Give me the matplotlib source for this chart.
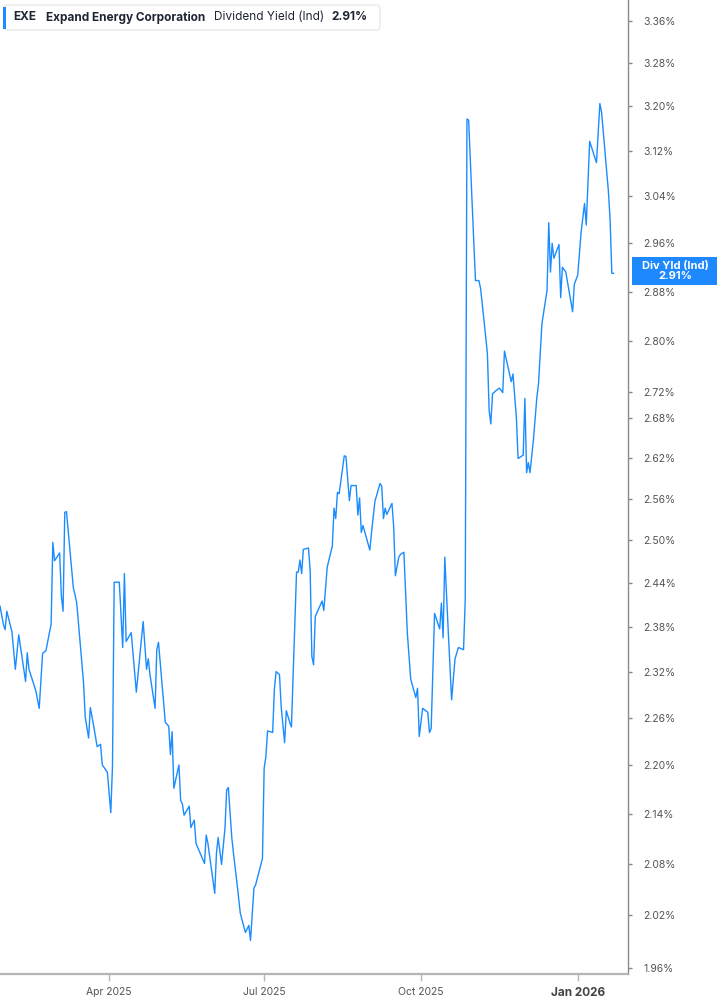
import matplotlib
matplotlib.use("Agg")
import matplotlib.pyplot as plt
import matplotlib.ticker as mticker
from matplotlib.patches import FancyBboxPatch, Rectangle
import pandas as pd

plt.rcParams['font.family'] = ['Inter', 'DejaVu Sans']

# EXE dividend yield (indicated), %
dates = [
    '2025-01-27', '2025-01-29', '2025-01-30', '2025-01-31', '2025-02-03', '2025-02-05',
    '2025-02-07', '2025-02-11', '2025-02-12', '2025-02-13', '2025-02-17', '2025-02-19',
    '2025-02-21', '2025-02-23', '2025-02-25', '2025-02-26', '2025-02-27', '2025-02-28',
    '2025-03-03', '2025-03-04', '2025-03-05', '2025-03-06', '2025-03-07', '2025-03-09',
    '2025-03-11', '2025-03-13', '2025-03-15', '2025-03-17', '2025-03-18', '2025-03-20',
    '2025-03-21', '2025-03-23', '2025-03-25', '2025-03-27', '2025-03-28', '2025-03-31',
    '2025-04-02', '2025-04-03', '2025-04-04', '2025-04-07', '2025-04-09', '2025-04-10',
    '2025-04-11', '2025-04-14', '2025-04-15', '2025-04-17', '2025-04-21', '2025-04-23',
    '2025-04-24', '2025-04-25', '2025-04-28', '2025-04-29', '2025-04-30', '2025-05-02',
    '2025-05-04', '2025-05-06', '2025-05-07', '2025-05-08', '2025-05-09', '2025-05-12',
    '2025-05-13', '2025-05-14', '2025-05-15', '2025-05-18', '2025-05-19', '2025-05-21',
    '2025-05-22', '2025-05-27', '2025-05-28', '2025-05-29', '2025-06-02', '2025-06-03',
    '2025-06-04', '2025-06-06', '2025-06-08', '2025-06-09', '2025-06-10', '2025-06-12',
    '2025-06-13', '2025-06-15', '2025-06-17', '2025-06-20', '2025-06-22', '2025-06-23',
    '2025-06-25', '2025-06-26', '2025-06-30', '2025-07-01', '2025-07-02', '2025-07-03',
    '2025-07-06', '2025-07-07', '2025-07-08', '2025-07-10', '2025-07-11', '2025-07-13',
    '2025-07-14', '2025-07-16', '2025-07-17', '2025-07-20', '2025-07-21', '2025-07-22',
    '2025-07-23', '2025-07-24', '2025-07-27', '2025-07-28', '2025-07-29', '2025-07-30',
    '2025-07-31', '2025-08-04', '2025-08-05', '2025-08-07', '2025-08-10', '2025-08-11',
    '2025-08-12', '2025-08-13', '2025-08-14', '2025-08-17', '2025-08-18', '2025-08-20',
    '2025-08-21', '2025-08-24', '2025-08-25', '2025-08-26', '2025-08-27', '2025-08-28',
    '2025-09-01', '2025-09-02', '2025-09-04', '2025-09-07', '2025-09-08', '2025-09-09',
    '2025-09-10', '2025-09-11', '2025-09-14', '2025-09-15', '2025-09-16', '2025-09-18',
    '2025-09-19', '2025-09-21', '2025-09-23', '2025-09-25', '2025-09-28', '2025-09-29',
    '2025-09-30', '2025-10-02', '2025-10-05', '2025-10-06', '2025-10-07', '2025-10-09',
    '2025-10-12', '2025-10-13', '2025-10-14', '2025-10-15', '2025-10-17', '2025-10-19',
    '2025-10-21', '2025-10-23', '2025-10-26', '2025-10-27', '2025-10-28', '2025-10-29',
    '2025-10-31', '2025-11-02', '2025-11-04', '2025-11-05', '2025-11-07', '2025-11-09',
    '2025-11-10', '2025-11-11', '2025-11-12', '2025-11-14', '2025-11-16', '2025-11-18',
    '2025-11-19', '2025-11-22', '2025-11-23', '2025-11-24', '2025-11-26', '2025-11-27',
    '2025-11-30', '2025-12-01', '2025-12-02', '2025-12-03', '2025-12-04', '2025-12-06',
    '2025-12-08', '2025-12-09', '2025-12-11', '2025-12-14', '2025-12-15', '2025-12-16',
    '2025-12-17', '2025-12-18', '2025-12-21', '2025-12-22', '2025-12-23', '2025-12-25',
    '2025-12-29', '2025-12-30', '2026-01-01', '2026-01-03', '2026-01-05', '2026-01-06',
    '2026-01-08', '2026-01-12', '2026-01-14', '2026-01-15', '2026-01-19', '2026-01-20',
    '2026-01-21', '2026-01-22',
]
yield_pct = [
    2.408, 2.383, 2.376, 2.401, 2.373, 2.323, 2.369, 2.307, 2.345, 2.323, 2.295, 2.272,
    2.344, 2.348, 2.372, 2.383, 2.497, 2.471, 2.482, 2.422, 2.401, 2.540, 2.541, 2.487,
    2.434, 2.413, 2.359, 2.306, 2.261, 2.234, 2.273, 2.249, 2.223, 2.226, 2.200, 2.191,
    2.141, 2.198, 2.441, 2.441, 2.352, 2.453, 2.360, 2.372, 2.345, 2.293, 2.387, 2.323,
    2.337, 2.316, 2.272, 2.349, 2.359, 2.306, 2.254, 2.249, 2.213, 2.242, 2.171, 2.200,
    2.156, 2.152, 2.138, 2.149, 2.123, 2.132, 2.104, 2.080, 2.114, 2.104, 2.045, 2.092,
    2.111, 2.079, 2.122, 2.169, 2.172, 2.111, 2.092, 2.058, 2.022, 2.000, 2.008, 1.991,
    2.051, 2.055, 2.086, 2.196, 2.210, 2.243, 2.241, 2.297, 2.320, 2.316, 2.274, 2.228,
    2.269, 2.254, 2.248, 2.455, 2.455, 2.472, 2.453, 2.487, 2.489, 2.457, 2.340, 2.329,
    2.394, 2.415, 2.402, 2.462, 2.492, 2.546, 2.531, 2.569, 2.567, 2.623, 2.622, 2.557,
    2.579, 2.579, 2.536, 2.561, 2.511, 2.521, 2.486, 2.511, 2.556, 2.582, 2.578, 2.531,
    2.546, 2.537, 2.553, 2.520, 2.450, 2.476, 2.480, 2.483, 2.372, 2.310, 2.286, 2.298,
    2.236, 2.272, 2.267, 2.241, 2.246, 2.398, 2.377, 2.412, 2.365, 2.476, 2.375, 2.283,
    2.337, 2.352, 2.349, 2.418, 3.177, 3.175, 3.031, 2.898, 2.898, 2.885, 2.833, 2.780,
    2.692, 2.671, 2.717, 2.722, 2.726, 2.719, 2.784, 2.748, 2.736, 2.748, 2.681, 2.619,
    2.624, 2.710, 2.598, 2.613, 2.598, 2.647, 2.711, 2.733, 2.828, 2.882, 2.995, 2.912,
    2.960, 2.935, 2.958, 2.870, 2.920, 2.912, 2.847, 2.892, 2.907, 2.979, 3.028, 2.991,
    3.137, 3.099, 3.205, 3.189, 3.049, 3.000, 2.910, 2.910,
]

ytick_vals = [1.96, 2.02, 2.08, 2.14, 2.20, 2.26, 2.32, 2.38, 2.44, 2.50, 2.56,
              2.62, 2.68, 2.72, 2.80, 2.88, 2.96, 3.04, 3.12, 3.20, 3.28, 3.36]
xtick_dates = ['2025-04-01', '2025-07-01', '2025-10-01', '2026-01-01']
xtick_labels = ['Apr 2025', 'Jul 2025', 'Oct 2025', 'Jan 2026']

ticker_sym = 'EXE'
company = 'Expand Energy Corporation'
metric = 'Dividend Yield (Ind)'
last_val = yield_pct[-1]

LINE = '#1a8cff'
TEXT = '#1f2533'
W, H = 717, 1005

fig = plt.figure(figsize=(W / 100, H / 100), dpi=100)
ax = fig.add_axes([0, 31 / H, 628 / W, 974 / H])

ax.plot(pd.to_datetime(dates), yield_pct, color=LINE, lw=1.0)

ax.set_yscale('log')
ax.set_ylim(1.9533, 3.3995)
ax.set_xlim(pd.Timestamp('2025-01-27'), pd.Timestamp('2026-01-30 12:00'))

ax.yaxis.set_major_locator(mticker.FixedLocator(ytick_vals))
ax.yaxis.set_minor_locator(mticker.NullLocator())
ax.yaxis.set_major_formatter(mticker.FuncFormatter(lambda v, p: f'{v:.2f}%'))
ax.yaxis.set_minor_formatter(mticker.NullFormatter())
ax.yaxis.tick_right()
ax.tick_params(axis='y', length=3, width=1, color='#888888', pad=8,
               labelsize=7.5, labelcolor='#555555')

ax.set_xticks(pd.to_datetime(xtick_dates))
ax.set_xticklabels(xtick_labels)
ax.tick_params(axis='x', length=5, width=1, color='#b5b5b5', pad=4,
               labelsize=7.5, labelcolor='#555555')
last_lbl = ax.get_xticklabels()[-1]
last_lbl.set_fontweight('bold')
last_lbl.set_fontsize(8.5)
last_lbl.set_color('#444444')

for s in ['left', 'top']:
    ax.spines[s].set_visible(False)
ax.spines['right'].set_color('#8a8a8a')
ax.spines['right'].set_linewidth(1.0)
ax.spines['bottom'].set_color('#b5b5b5')
ax.spines['bottom'].set_linewidth(1.6)

# header legend box
def px(x, y):
    return x / W, 1 - y / H

box = FancyBboxPatch(px(4, 30), 376 / W, 25 / H, boxstyle='round,pad=0,rounding_size=0.004',
                     transform=fig.transFigure, facecolor='white', edgecolor='#e3e3e3', lw=0.8)
fig.patches.append(box)
fig.patches.append(Rectangle(px(3, 29), 3 / W, 22 / H, transform=fig.transFigure,
                             facecolor=LINE, edgecolor='none'))
hy = 17.5
fig.text(*px(13, hy), ticker_sym, fontsize=8.5, fontweight='bold', color=TEXT, va='center')
fig.text(*px(46, hy), company, fontsize=8.5, fontweight='bold', color=TEXT, va='center')
fig.text(*px(214, hy), metric, fontsize=8.5, color=TEXT, va='center')
fig.text(*px(331, hy), f'{last_val:.2f}%', fontsize=8.5, fontweight='bold', color=TEXT, va='center')

# last value tag on the right axis
y_disp = ax.transData.transform((ax.get_xlim()[0], last_val))[1]
yc = y_disp + 2.5
fig.patches.append(Rectangle((632 / W, (yc - 14) / H), 85 / W, 28 / H,
                             transform=fig.transFigure, facecolor='#1e88ff', edgecolor='none'))
fig.text(675 / W, (yc + 5) / H, 'Div Yld (Ind)', fontsize=8, fontweight='bold',
         color='white', ha='center', va='center')
fig.text(675 / W, (yc - 5.5) / H, f'{last_val:.2f}%', fontsize=8, fontweight='bold',
         color='white', ha='center', va='center')

fig.savefig('out.png', dpi=100)
